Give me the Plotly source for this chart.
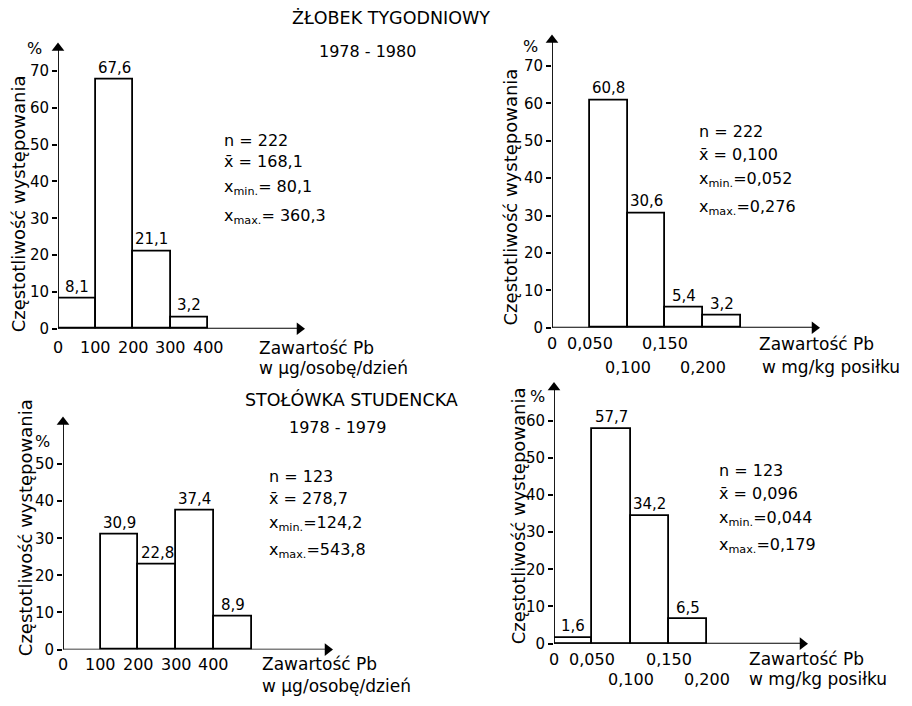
import plotly.graph_objects as go

W, H = 912, 706
FONT = "DejaVu Sans"

# ---------------- data ----------------
# Panel 1: Żłobek tygodniowy, µg/osobę/dzień
p1_left = [0, 100, 200, 300]
p1_width = 100
p1_freq = [8.1, 67.6, 21.1, 3.2]
p1_freq_text = ["8,1", "67,6", "21,1", "3,2"]
p1_xtick_vals = [0, 100, 200, 300, 400]
p1_xtick_text = ["0", "100", "200", "300", "400"]
p1_xtick_row = [0, 0, 0, 0, 0]
p1_ytick_vals = [0, 10, 20, 30, 40, 50, 60, 70]
p1_stats = ["n = 222", "x\u0304 = 168,1", "x<sub>min.</sub>= 80,1", "x<sub>max.</sub>= 360,3"]
p1_unit = "w \u00b5g/osobę/dzień"

# Panel 2: Żłobek tygodniowy, mg/kg posiłku
p2_left = [0.05, 0.10, 0.15, 0.20]
p2_width = 0.05
p2_freq = [60.8, 30.6, 5.4, 3.2]
p2_freq_text = ["60,8", "30,6", "5,4", "3,2"]
p2_xtick_vals = [0, 0.05, 0.10, 0.15, 0.20]
p2_xtick_text = ["0", "0,050", "0,100", "0,150", "0,200"]
p2_xtick_row = [0, 0, 1, 0, 1]
p2_ytick_vals = [0, 10, 20, 30, 40, 50, 60, 70]
p2_stats = ["n = 222", "x\u0304 = 0,100", "x<sub>min.</sub>=0,052", "x<sub>max.</sub>=0,276"]
p2_unit = "w mg/kg posiłku"

# Panel 3: Stołówka studencka, µg/osobę/dzień
p3_left = [100, 200, 300, 400]
p3_width = 100
p3_freq = [30.9, 22.8, 37.4, 8.9]
p3_freq_text = ["30,9", "22,8", "37,4", "8,9"]
p3_xtick_vals = [0, 100, 200, 300, 400]
p3_xtick_text = ["0", "100", "200", "300", "400"]
p3_xtick_row = [0, 0, 0, 0, 0]
p3_ytick_vals = [0, 10, 20, 30, 40, 50]
p3_stats = ["n = 123", "x\u0304 = 278,7", "x<sub>min.</sub>=124,2", "x<sub>max.</sub>=543,8"]
p3_unit = "w \u00b5g/osobę/dzień"

# Panel 4: Stołówka studencka, mg/kg posiłku
p4_left = [0.0, 0.05, 0.10, 0.15]
p4_width = 0.05
p4_freq = [1.6, 57.7, 34.2, 6.5]
p4_freq_text = ["1,6", "57,7", "34,2", "6,5"]
p4_xtick_vals = [0, 0.05, 0.10, 0.15, 0.20]
p4_xtick_text = ["0", "0,050", "0,100", "0,150", "0,200"]
p4_xtick_row = [0, 0, 1, 0, 1]
p4_ytick_vals = [0, 10, 20, 30, 40, 50, 60]
p4_stats = ["n = 123", "x\u0304 = 0,096", "x<sub>min.</sub>=0,044", "x<sub>max.</sub>=0,179"]
p4_unit = "w mg/kg posiłku"

y_title = "Częstotliwość występowania"
x_title = "Zawartość Pb"
group_titles = ["ŻŁOBEK TYGODNIOWY", "1978 - 1980", "STOŁÓWKA STUDENCKA", "1978 - 1979"]

# ---------------- layout geometry (pixels) ----------------
panels = [
    dict(left=p1_left, w=p1_width, freq=p1_freq, ftxt=p1_freq_text, xtv=p1_xtick_vals, xtt=p1_xtick_text,
         xtr=p1_xtick_row, ytv=p1_ytick_vals, stats=p1_stats, unit=p1_unit,
         x0=58, xend=305, y0=333, ytop=43, xs=0.375, ys=3.73,
         rows=[352, 373], xlab=(257, 352), unitpos=(257, 373), statpos=(222, [142, 164, 190, 219]),
         pct=(34, 49), ytit=(18, 207)),
    dict(left=p2_left, w=p2_width, freq=p2_freq, ftxt=p2_freq_text, xtv=p2_xtick_vals, xtt=p2_xtick_text,
         xtr=p2_xtick_row, ytv=p2_ytick_vals, stats=p2_stats, unit=p2_unit,
         x0=552, xend=820, y0=332, ytop=35, xs=756, ys=3.79,
         rows=[348, 372], xlab=(757, 348), unitpos=(760, 372), statpos=(697, [133, 156, 182, 210]),
         pct=(530, 47), ytit=(510, 200)),
    dict(left=p3_left, w=p3_width, freq=p3_freq, ftxt=p3_freq_text, xtv=p3_xtick_vals, xtt=p3_xtick_text,
         xtr=p3_xtick_row, ytv=p3_ytick_vals, stats=p3_stats, unit=p3_unit,
         x0=63, xend=333, y0=658, ytop=422, xs=0.377, ys=3.76,
         rows=[673, 695], xlab=(260, 673), unitpos=(260, 695), statpos=(267, [483, 505, 530, 558]),
         pct=(42, 447), ytit=(25, 535)),
    dict(left=p4_left, w=p4_width, freq=p4_freq, ftxt=p4_freq_text, xtv=p4_xtick_vals, xtt=p4_xtick_text,
         xtr=p4_xtick_row, ytv=p4_ytick_vals, stats=p4_stats, unit=p4_unit,
         x0=554, xend=808, y0=652, ytop=387, xs=765, ys=3.767,
         rows=[668, 688], xlab=(747, 668), unitpos=(747, 688), statpos=(717, [477, 500, 525, 553]),
         pct=(537, 402), ytit=(518, 523)),
]
title_pos = [(391, 18, 17.5), (367, 52, 16), (351, 405, 17.5), (337, 433, 16)]

def px(x):
    return x / W

def py(y):
    return 1 - y / H

fig = go.Figure()
annotations = []
layout = {}
HEAD = 11  # arrowhead marker size in px

for i, p in enumerate(panels, start=1):
    sfx = "" if i == 1 else str(i)
    xa, ya = "x" + sfx, "y" + sfx
    xmax = (p["xend"] - p["x0"]) / p["xs"]
    ymax = (p["y0"] - p["ytop"]) / p["ys"]
    centers = [l + p["w"] / 2 for l in p["left"]]
    fig.add_trace(go.Bar(
        x=centers, y=p["freq"], width=p["w"],
        marker=dict(color="white", line=dict(color="black", width=1.8)),
        xaxis=xa, yaxis=ya, showlegend=False, hoverinfo="skip",
    ))
    # bar value labels
    for cx, f, t in zip(centers, p["freq"], p["ftxt"]):
        annotations.append(dict(x=cx, y=f, xref=xa, yref=ya, text=t, showarrow=False,
                                xanchor="center", yanchor="bottom", yshift=1,
                                font=dict(family=FONT, size=15, color="black")))
    # axis lines with arrowheads
    xhead = xmax - (HEAD / 2) / p["xs"]
    yhead = ymax - (HEAD / 2) / p["ys"]
    fig.add_trace(go.Scatter(
        x=[0, xhead, None, 0, 0], y=[0, 0, None, 0, yhead], mode="lines",
        line=dict(color="black", width=1.8), cliponaxis=False,
        xaxis=xa, yaxis=ya, showlegend=False, hoverinfo="skip",
    ))
    fig.add_trace(go.Scatter(
        x=[xhead, 0], y=[0, yhead], mode="markers", cliponaxis=False,
        marker=dict(symbol=["triangle-right", "triangle-up"], size=HEAD, color="black",
                    line=dict(width=0)),
        xaxis=xa, yaxis=ya, showlegend=False, hoverinfo="skip",
    ))
    layout["xaxis" + sfx] = dict(domain=[px(p["x0"]), px(p["xend"])], range=[0, xmax], anchor=ya,
                                 showgrid=False, zeroline=False, showline=False, showticklabels=False,
                                 ticks="", fixedrange=True)
    layout["yaxis" + sfx] = dict(domain=[py(p["y0"]), py(p["ytop"])], range=[0, ymax], anchor=xa,
                                 showgrid=False, zeroline=False, showline=False,
                                 tickvals=p["ytv"], ticks="outside", ticklen=5, tickwidth=1.5,
                                 tickcolor="black", tickfont=dict(family=FONT, size=15, color="black"),
                                 fixedrange=True)
    # x tick labels
    for v, t, r in zip(p["xtv"], p["xtt"], p["xtr"]):
        annotations.append(dict(x=v, y=py(p["rows"][r]), xref=xa, yref="paper", text=t,
                                showarrow=False, xanchor="center", yanchor="middle",
                                font=dict(family=FONT, size=16, color="black")))
    # x axis title and unit
    annotations.append(dict(x=px(p["xlab"][0]), y=py(p["xlab"][1]), xref="paper", yref="paper",
                            text=x_title, showarrow=False, xanchor="left", yanchor="middle",
                            font=dict(family=FONT, size=17, color="black")))
    annotations.append(dict(x=px(p["unitpos"][0]), y=py(p["unitpos"][1]), xref="paper", yref="paper",
                            text=p["unit"], showarrow=False, xanchor="left", yanchor="middle",
                            font=dict(family=FONT, size=17, color="black")))
    # stats
    for t, yy in zip(p["stats"], p["statpos"][1]):
        annotations.append(dict(x=px(p["statpos"][0]), y=py(yy), xref="paper", yref="paper",
                                text=t, showarrow=False, xanchor="left", yanchor="middle",
                                font=dict(family=FONT, size=16, color="black")))
    # percent sign
    annotations.append(dict(x=px(p["pct"][0]), y=py(p["pct"][1]), xref="paper", yref="paper",
                            text="%", showarrow=False, xanchor="center", yanchor="middle",
                            font=dict(family=FONT, size=16, color="black")))
    # y title
    annotations.append(dict(x=px(p["ytit"][0]), y=py(p["ytit"][1]), xref="paper", yref="paper",
                            text=y_title, textangle=-90, showarrow=False, xanchor="center",
                            yanchor="middle", font=dict(family=FONT, size=18, color="black")))

# group titles
for t, (x, y, s) in zip(group_titles, title_pos):
    annotations.append(dict(x=px(x), y=py(y), xref="paper", yref="paper", text=t, showarrow=False,
                            xanchor="center", yanchor="middle",
                            font=dict(family=FONT, size=s, color="black")))

fig.update_layout(
    width=W, height=H, margin=dict(l=0, r=0, t=0, b=0),
    paper_bgcolor="white", plot_bgcolor="white",
    bargap=0, annotations=annotations, showlegend=False,
    font=dict(family=FONT, color="black"),
    **layout,
)

fig.write_html("out.html")
